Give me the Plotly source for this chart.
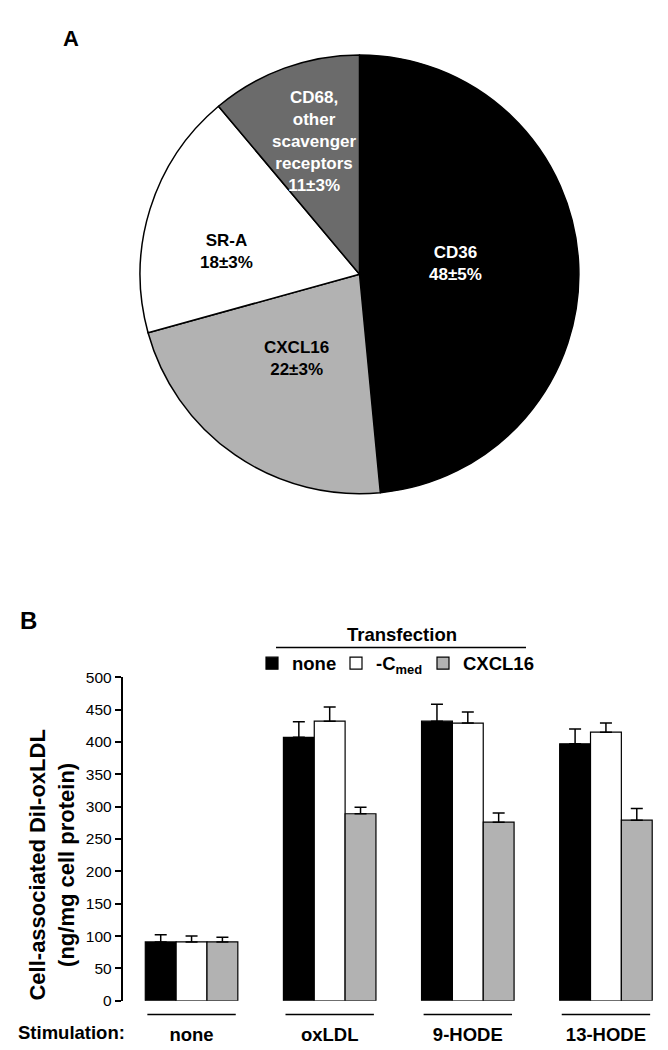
import plotly.graph_objects as go

# ---------------- Panel A data ----------------
receptors = ["CD36", "CXCL16", "SR-A", "CD68, other scavenger receptors"]
label_lines = [["CD36"], ["CXCL16"], ["SR-A"], ["CD68,", "other", "scavenger", "receptors"]]
shares = [48, 22, 18, 11]
share_sem = [5, 3, 3, 3]
pie_colors = ["#000000", "#b2b2b2", "#ffffff", "#6b6b6b"]
pie_text_colors = ["#ffffff", "#000000", "#000000", "#ffffff"]

# ---------------- Panel B data ----------------
stimulation = ["none", "oxLDL", "9-HODE", "13-HODE"]
transfection = ["none", "-C<sub>med</sub>", "CXCL16"]
uptake_none = [91, 407, 432, 397]
uptake_cmed = [91, 432, 429, 415]
uptake_cxcl16 = [91, 289, 276, 279]
err_none = [11, 24, 26, 23]
err_cmed = [9, 22, 17, 14]
err_cxcl16 = [7, 10, 14, 18]
bar_colors = ["#000000", "#ffffff", "#b2b2b2"]
legend_widths = [39, 42, 80]
y_ticks = list(range(0, 501, 50))

FONT = "Liberation Sans, Arial, sans-serif"
W, H = 668, 1050

fig = go.Figure()

# ---- Pie ----
cx, cy, r = 351.5, 261.5, 223
fig.add_trace(go.Pie(
    labels=receptors,
    values=shares,
    sort=False,
    direction="clockwise",
    rotation=0,
    marker=dict(colors=pie_colors, line=dict(color="#000000", width=1.5)),
    textinfo="none",
    hoverinfo="label+percent",
    showlegend=False,
    domain=dict(x=[(cx - r) / W, (cx + r) / W], y=[1 - (cy + r) / H, 1 - (cy - r) / H]),
))

pie_label_pos = [(447, 251), (288, 347), (218, 238), (306, 127)]
for lines, s, e, col, (px, py) in zip(label_lines, shares, share_sem, pie_text_colors, pie_label_pos):
    txt = "<br>".join(lines + [f"{s}±{e}%"])
    fig.add_annotation(
        x=px / W, y=1 - py / H, xref="paper", yref="paper",
        text=f"<b>{txt}</b>", showarrow=False,
        font=dict(family=FONT, size=17, color=col),
        xanchor="center", yanchor="middle", align="center",
    )

# ---- Bars ----
series = [(uptake_none, err_none), (uptake_cmed, err_cmed), (uptake_cxcl16, err_cxcl16)]
for name, (vals, errs), col, lw in zip(transfection, series, bar_colors, legend_widths):
    fig.add_trace(go.Bar(
        x=stimulation, y=vals, name=f"<b>{name}</b>",
        marker=dict(color=col, line=dict(color="#000000", width=1.2)),
        error_y=dict(type="data", array=errs, arrayminus=[0] * len(errs),
                     symmetric=False, color="#000000", thickness=1.5, width=6),
        legendwidth=lw,
        xaxis="x", yaxis="y",
    ))

x_dom = [114.5 / W, 667 / W]
y_dom = [1 - 1000 / H, 1 - 671 / H]

fig.update_layout(
    width=W, height=H,
    margin=dict(l=0, r=0, t=0, b=0),
    paper_bgcolor="white", plot_bgcolor="white",
    barmode="group", bargap=0.33, bargroupgap=0,
    font=dict(family=FONT, color="#000000"),
    xaxis=dict(domain=x_dom, showline=False, showgrid=False, zeroline=False,
               ticks="", ticklabelstandoff=21,
               tickfont=dict(family=FONT, size=18.5, color="#000000"),
               tickprefix="<b>", ticksuffix="</b>", fixedrange=True),
    yaxis=dict(domain=y_dom, range=[0, 500], tickvals=y_ticks,
               showline=True, linecolor="#000000", linewidth=1.5,
               ticks="outside", ticklen=6, tickwidth=1.5, tickcolor="#000000",
               showgrid=False, zeroline=False,
               tickfont=dict(family=FONT, size=15.5, color="#000000"),
               tickprefix="<b>", ticksuffix="</b>"),
    legend=dict(orientation="h", x=244 / W, y=1 - 638 / H, xanchor="left", yanchor="top",
                font=dict(family=FONT, size=18.5, color="#000000"),
                itemwidth=30, traceorder="normal",
                bgcolor="rgba(0,0,0,0)", tracegroupgap=0),
)

# Y axis title (placed as rotated text left of the axis)
fig.add_annotation(x=44.5 / W, y=1 - 862 / H, xref="paper", yref="paper",
                   text="<b>Cell-associated DiI-oxLDL<br>(ng/mg cell protein)</b>",
                   textangle=-90, showarrow=False, align="center",
                   font=dict(family=FONT, size=22, color="#000000"),
                   xanchor="center", yanchor="middle")

# Transfection header
fig.add_annotation(x=394 / W, y=1 - 628 / H, xref="paper", yref="paper",
                   text="<b>Transfection</b>", showarrow=False,
                   font=dict(family=FONT, size=18.5), xanchor="center", yanchor="middle")
fig.add_shape(type="line", xref="paper", yref="paper",
              x0=268 / W, x1=518 / W, y0=1 - 641 / H, y1=1 - 641 / H,
              line=dict(color="#000000", width=1.5))

# Stimulation row
fig.add_annotation(x=8 / W, y=1 - 1032 / H, xref="paper", yref="paper",
                   text="<b>Stimulation:</b>", showarrow=False,
                   font=dict(family=FONT, size=18.5), xanchor="left", yanchor="middle")
for i, _ in enumerate(stimulation):
    fig.add_shape(type="line", xref="x", yref="paper",
                  x0=i - 0.32, x1=i + 0.32, y0=1 - 1014 / H, y1=1 - 1014 / H,
                  line=dict(color="#000000", width=1.5))

# Panel letters
fig.add_annotation(x=63 / W, y=1 - 22 / H, xref="paper", yref="paper",
                   text="<b>A</b>", showarrow=False, font=dict(family=FONT, size=22),
                   xanchor="center", yanchor="middle")
fig.add_annotation(x=20 / W, y=1 - 613 / H, xref="paper", yref="paper",
                   text="<b>B</b>", showarrow=False, font=dict(family=FONT, size=24),
                   xanchor="center", yanchor="middle")

fig.write_html("out.html")
